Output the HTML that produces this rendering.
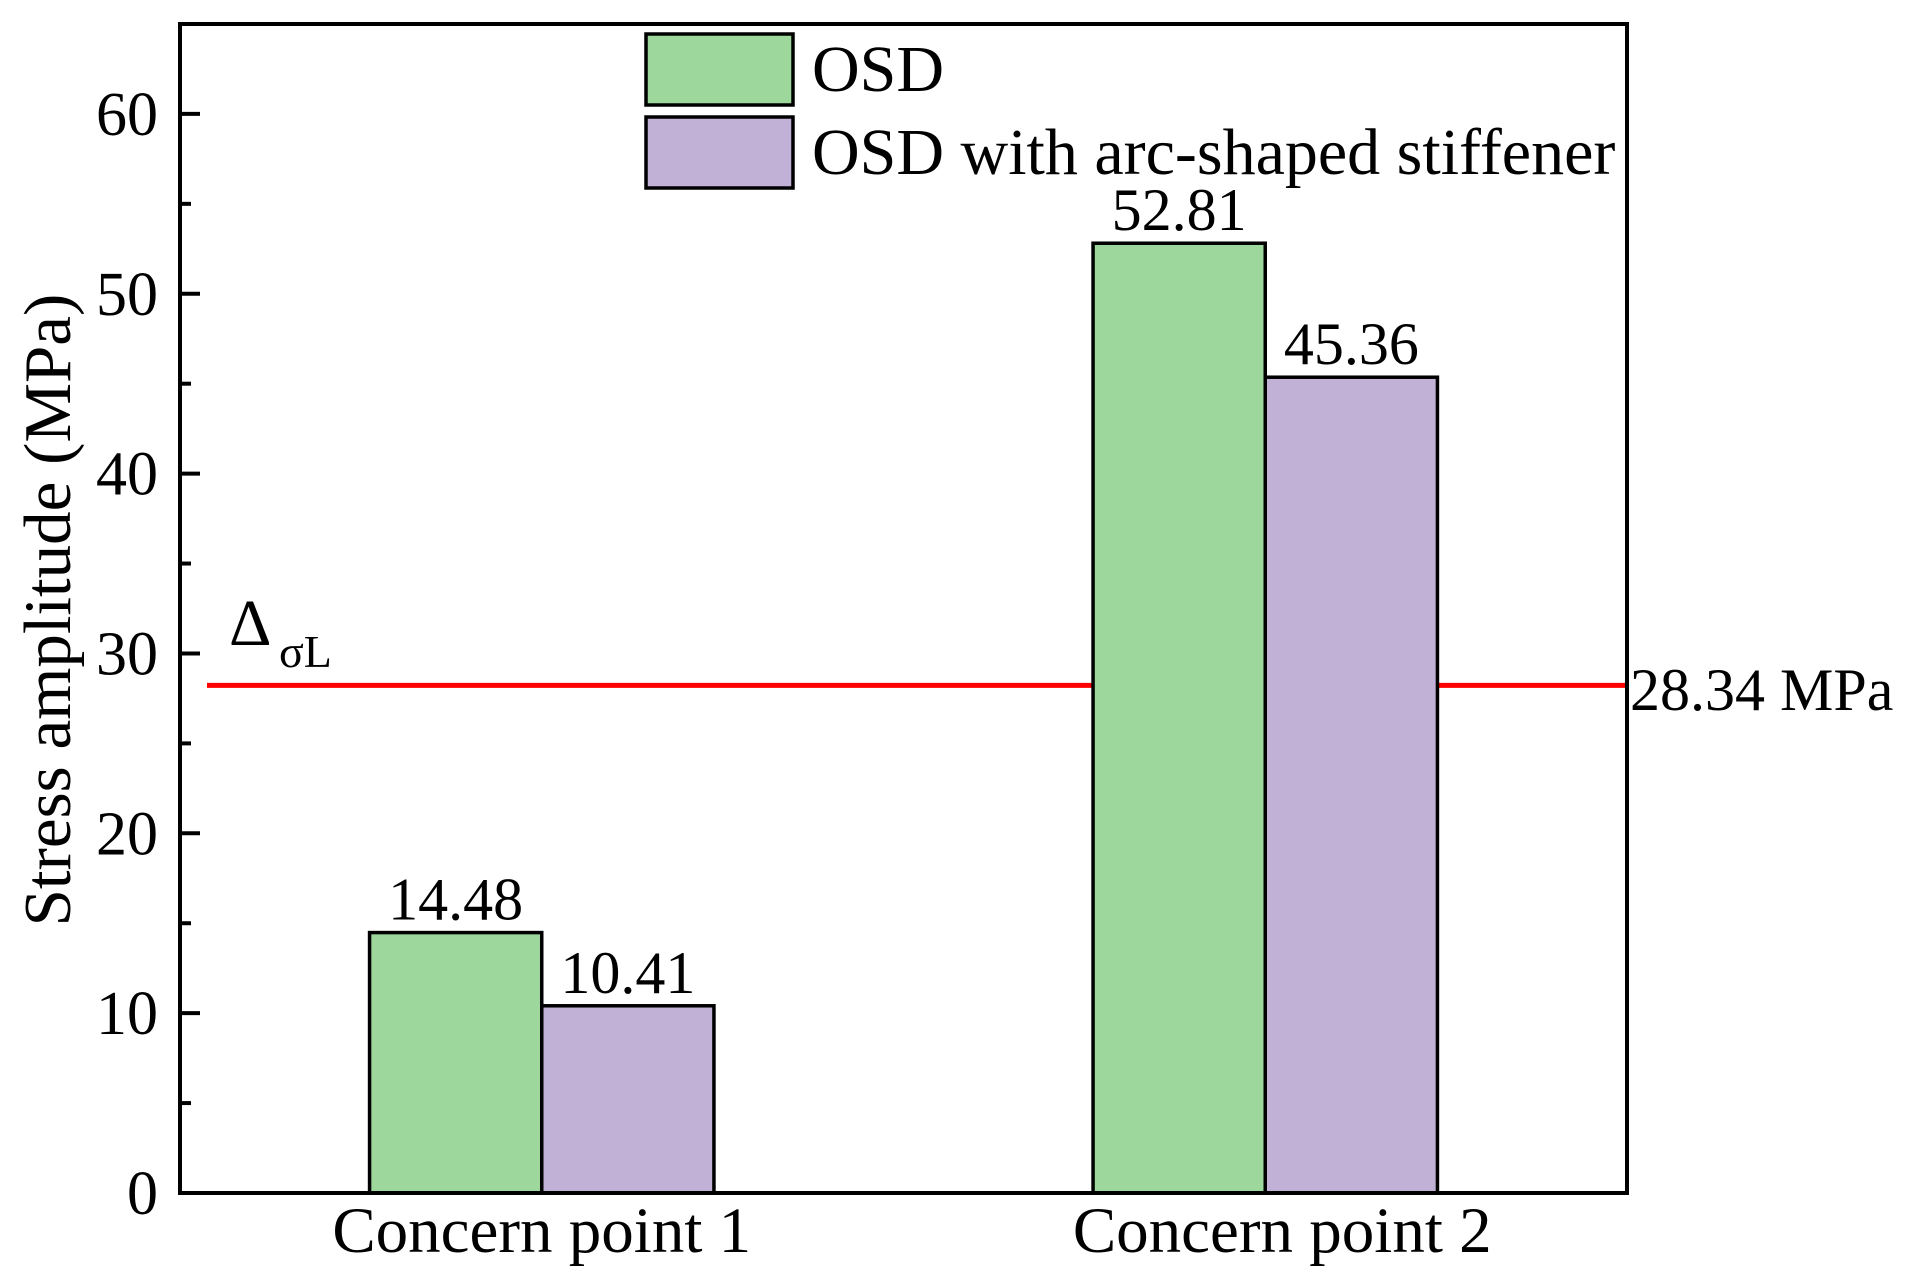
<!DOCTYPE html>
<html><head><meta charset="utf-8"><style>
html,body{margin:0;padding:0;background:#fff;}
svg{display:block;font-family:"Liberation Serif",serif;}
</style></head><body>
<svg id="chart" width="1907" height="1283" viewBox="0 0 1907 1283" xmlns="http://www.w3.org/2000/svg"></svg>
<script>
const categories = ["Concern point 1", "Concern point 2"];
const seriesNames = ["OSD", "OSD with arc-shaped stiffener"];
const osdValues = [14.48, 52.81];
const stiffenerValues = [10.41, 45.36];
const valueLabels = [["14.48", "52.81"], ["10.41", "45.36"]];
const yTicks = [0, 10, 20, 30, 40, 50, 60];
const yMinorTicks = [5, 15, 25, 35, 45, 55];
const thresholdValue = [28.34];

const colors = ["#9dd79b", "#c2b1d6"];
const L = 180, R = 1627, T = 24, B = 1193;
const yMin = 0, yMax = 65, xMin = 0.5, xMax = 2.5, barW = 0.238;
const ys = v => B - (v - yMin) / (yMax - yMin) * (B - T);
const xs = v => L + (v - xMin) / (xMax - xMin) * (R - L);
const svg = document.getElementById('chart');
const NS = 'http://www.w3.org/2000/svg';
function mk(tag, attrs, text) {
  const e = document.createElementNS(NS, tag);
  for (const k in attrs) e.setAttribute(k, attrs[k]);
  if (text !== undefined) e.textContent = text;
  svg.appendChild(e);
  return e;
}

// threshold line (behind bars)
const tl = mk('line', {x1: 207, x2: R, y1: ys(thresholdValue[0]) + 2, y2: ys(thresholdValue[0]) + 2, stroke: '#ff0000', 'stroke-width': 5});



// bars
const series = [osdValues, stiffenerValues];
series.forEach((vals, si) => {
  vals.forEach((v, ci) => {
    const x0 = xs(ci + 1 + (si - 1) * barW);
    const x1 = xs(ci + 1 + si * barW);
    const r = mk('rect', {x: x0, y: ys(v), width: x1 - x0, height: ys(0) - ys(v), fill: colors[si], stroke: '#000', 'stroke-width': 3.5});
    
    
    const t = mk('text', {x: (x0 + x1) / 2, y: ys(v) - 13, 'font-size': 60, 'text-anchor': 'middle'}, valueLabels[si][ci]);
    
    
  });
});

// axes frame
const frame = mk('rect', {x: L, y: T, width: R - L, height: B - T, fill: 'none', stroke: '#000', 'stroke-width': 4});



// y ticks
yTicks.forEach(v => {
  const tk = mk('line', {x1: L, x2: L + 20, y1: ys(v), y2: ys(v), stroke: '#000', 'stroke-width': 4});
  
  
  const lb = mk('text', {x: L - 22, y: ys(v) + 21, 'font-size': 62, 'text-anchor': 'end'}, String(v));
  
  
});
yMinorTicks.forEach(v => {
  const tk = mk('line', {x1: L, x2: L + 11, y1: ys(v), y2: ys(v), stroke: '#000', 'stroke-width': 4});
  
  
});

// x category labels
const catShift = [0, 17];
categories.forEach((c, i) => {
  const lb = mk('text', {x: xs(i + 1) + catShift[i], y: 1252, 'font-size': 65, 'text-anchor': 'middle'}, c);
  
  
});

// y axis title
const yt = mk('text', {x: 0, y: 0, 'font-size': 67, 'text-anchor': 'middle', 'xml:space': 'preserve', transform: 'translate(70,610) rotate(-90)'}, 'Stress amplitude  (MPa)');



// threshold annotations
const tv = mk('text', {x: 1630, y: 710, 'font-size': 60}, thresholdValue[0].toFixed(2) + ' MPa');


const dl = mk('text', {x: 229, y: 645, 'font-size': 66}, 'Δ');


const ds = mk('text', {x: 279, y: 667, 'font-size': 46}, 'σL');



// legend
const legY = [34, 117];
seriesNames.forEach((n, i) => {
  const b = mk('rect', {x: 646, y: legY[i], width: 147, height: 71, fill: colors[i], stroke: '#000', 'stroke-width': 3.5});
  
  
  const t = mk('text', {x: 812, y: legY[i] + 57, 'font-size': 66}, n);
  
  
});
</script>
</body></html>
